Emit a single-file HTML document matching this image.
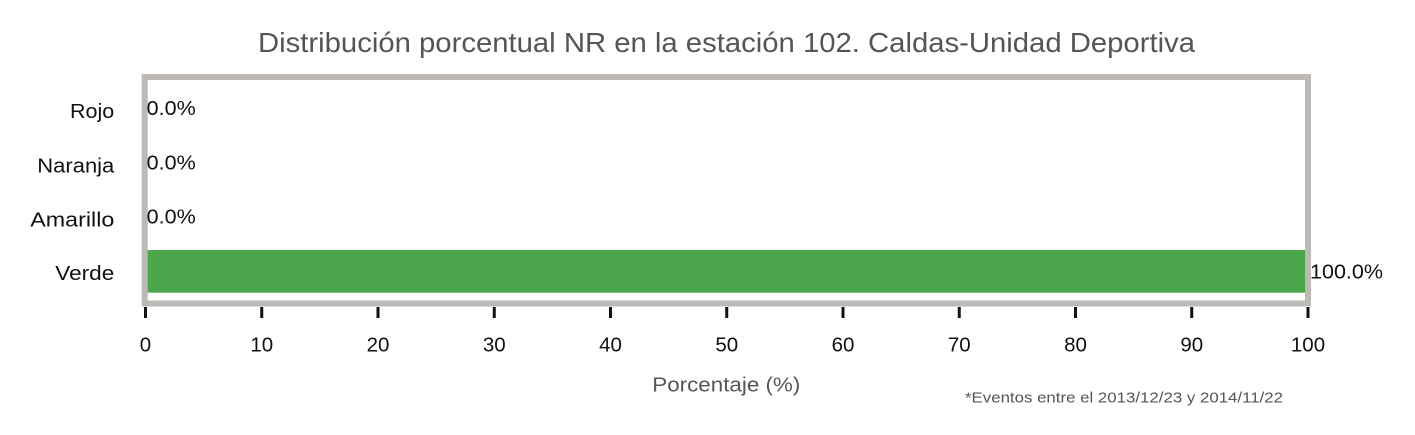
<!DOCTYPE html>
<html>
<head>
<meta charset="utf-8">
<style>
  html, body { margin: 0; padding: 0; background: #ffffff; }
  svg { display: block; }
  text { font-family: "Liberation Sans", "DejaVu Sans", sans-serif; }
</style>
</head>
<body>
<svg width="1415" height="435" viewBox="0 0 1415 435" xmlns="http://www.w3.org/2000/svg">
  <rect x="0" y="0" width="1415" height="435" fill="#ffffff"/>

  <!-- Title -->
  <text x="258" y="52" font-size="28" fill="#555555" textLength="937" lengthAdjust="spacingAndGlyphs">Distribución porcentual NR en la estación 102. Caldas-Unidad Deportiva</text>

  <!-- Green bar -->
  <rect x="145" y="250" width="1163" height="42.7" fill="#4ca74c"/>

  <!-- Frame -->
  <rect x="144.7" y="77" width="1163.3" height="226.5" fill="none" stroke="#bdb9b4" stroke-width="6"/>

  <!-- Y labels -->
  <text x="114.3" y="118" font-size="20.5" fill="#111111" text-anchor="end" textLength="44.3" lengthAdjust="spacingAndGlyphs">Rojo</text>
  <text x="114.3" y="172.7" font-size="20.5" fill="#111111" text-anchor="end" textLength="77" lengthAdjust="spacingAndGlyphs">Naranja</text>
  <text x="114.3" y="226.7" font-size="20.5" fill="#111111" text-anchor="end" textLength="84" lengthAdjust="spacingAndGlyphs">Amarillo</text>
  <text x="114.3" y="280" font-size="20.5" fill="#111111" text-anchor="end" textLength="59" lengthAdjust="spacingAndGlyphs">Verde</text>

  <!-- Value labels -->
  <text x="146.7" y="115" font-size="20.5" fill="#111111" textLength="49" lengthAdjust="spacingAndGlyphs">0.0%</text>
  <text x="146.7" y="169.3" font-size="20.5" fill="#111111" textLength="49" lengthAdjust="spacingAndGlyphs">0.0%</text>
  <text x="146.7" y="223.3" font-size="20.5" fill="#111111" textLength="49" lengthAdjust="spacingAndGlyphs">0.0%</text>
  <text x="1310" y="278.3" font-size="20.5" fill="#111111" textLength="73" lengthAdjust="spacingAndGlyphs">100.0%</text>

  <!-- X ticks -->
  <g stroke="#111111" stroke-width="3">
    <line x1="145.5" y1="307" x2="145.5" y2="318"/>
    <line x1="261.75" y1="307" x2="261.75" y2="318"/>
    <line x1="378" y1="307" x2="378" y2="318"/>
    <line x1="494.25" y1="307" x2="494.25" y2="318"/>
    <line x1="610.5" y1="307" x2="610.5" y2="318"/>
    <line x1="726.75" y1="307" x2="726.75" y2="318"/>
    <line x1="843" y1="307" x2="843" y2="318"/>
    <line x1="959.25" y1="307" x2="959.25" y2="318"/>
    <line x1="1075.5" y1="307" x2="1075.5" y2="318"/>
    <line x1="1191.75" y1="307" x2="1191.75" y2="318"/>
    <line x1="1308" y1="307" x2="1308" y2="318"/>
  </g>

  <!-- X tick labels -->
  <g font-size="20.5" fill="#111111" text-anchor="middle">
    <text x="145.5" y="351.5">0</text>
    <text x="261.75" y="351.5">10</text>
    <text x="378" y="351.5">20</text>
    <text x="494.25" y="351.5">30</text>
    <text x="610.5" y="351.5">40</text>
    <text x="726.75" y="351.5">50</text>
    <text x="843" y="351.5">60</text>
    <text x="959.25" y="351.5">70</text>
    <text x="1075.5" y="351.5">80</text>
    <text x="1191.75" y="351.5">90</text>
    <text x="1308" y="351.5">100</text>
  </g>

  <!-- X axis label -->
  <text x="652.3" y="391.7" font-size="20.5" fill="#555555" textLength="148" lengthAdjust="spacingAndGlyphs">Porcentaje (%)</text>

  <!-- Footnote -->
  <text x="965" y="402.5" font-size="14.5" fill="#555555" textLength="318" lengthAdjust="spacingAndGlyphs">*Eventos entre el 2013/12/23 y 2014/11/22</text>
</svg>
</body>
</html>
